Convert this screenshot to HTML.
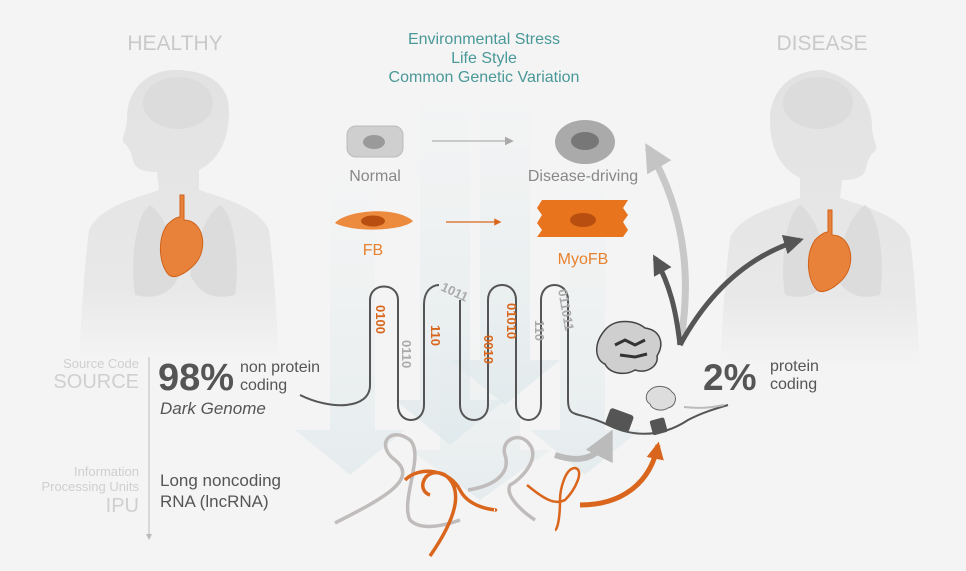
<!DOCTYPE html>
<html><head><style>
html,body{margin:0;padding:0;background:#f4f4f4;}
svg{display:block;font-family:"Liberation Sans",sans-serif;}
</style></head><body>
<svg width="966" height="571" viewBox="0 0 966 571">
<defs>
<linearGradient id="fade" x1="0" y1="0" x2="0" y2="1"><stop offset="0" stop-color="#e2e2e2"/><stop offset="0.75" stop-color="#e8e8e8"/><stop offset="1" stop-color="#f4f4f4"/></linearGradient>
<linearGradient id="teal" x1="0" y1="0" x2="0" y2="1"><stop offset="0" stop-color="#e4ecee" stop-opacity="0.1"/><stop offset="1" stop-color="#d6e4e8" stop-opacity="0.8"/></linearGradient>
<marker id="ag" viewBox="0 0 10 10" refX="8" refY="5" markerWidth="6" markerHeight="6" orient="auto"><path d="M0,0L10,5L0,10z" fill="#aaa"/></marker>
<marker id="ao" viewBox="0 0 10 10" refX="8" refY="5" markerWidth="6" markerHeight="6" orient="auto"><path d="M0,0L10,5L0,10z" fill="#d9661c"/></marker>
<marker id="ad" viewBox="0 0 10 10" refX="8" refY="5" markerWidth="4" markerHeight="4" orient="auto"><path d="M0,0L10,5L0,10z" fill="#555"/></marker>
<marker id="al" viewBox="0 0 10 10" refX="8" refY="5" markerWidth="4" markerHeight="4" orient="auto"><path d="M0,0L10,5L0,10z" fill="#c4c4c4"/></marker>
<marker id="aor" viewBox="0 0 10 10" refX="8" refY="5" markerWidth="3.5" markerHeight="3.5" orient="auto"><path d="M0,0L10,5L0,10z" fill="#d9661c"/></marker>
<marker id="av" viewBox="0 0 10 10" refX="8" refY="5" markerWidth="5" markerHeight="5" orient="auto"><path d="M0,0L10,5L0,10z" fill="#bbb"/></marker>
</defs>

<g fill="url(#fade)">
<path d="M175,70c-30,0-48,22-48,48c0,14 -8,22-2,26c4,3 6,8 8,16c2,10 12,12 24,12l2,18c-30,10-60,18-70,40c-5,40-8,90-10,130h200c-2-40-5-90-10-130c-10-22-40-30-70-40l0-20c20-10 30-30 30-60c0-25-20-40-54-40z"/>
<path d="M822,70c-32,0-52,22-52,50c0,28 10,48 30,58l0,20c-30,10-60,18-70,40c-5,40-8,90-10,130h200c-2-40-5-90-10-130c-10-22-40-30-70-40l2-18c12,0 22-2 24-12c2-8 4-13 8-16c6-4-2-12-2-26c0-26-18-48-50-56z"/>
</g>
<g fill="#dcdcdc">
<ellipse cx="178" cy="103" rx="35" ry="26"/>
<ellipse cx="818" cy="103" rx="35" ry="26"/>
<path d="M150,205c-15,10-20,60-15,90c20,5 35,0 45-20c-5-30-15-60-30-70z"/>
<path d="M220,205c15,10 20,60 15,90c-20,5-35,0-45-20c5-30 15-60 30-70z"/>
<path d="M800,205c-15,10-20,60-15,90c20,5 35,0 45-20c-5-30-15-60-30-70z"/>
<path d="M865,205c15,10 20,60 15,90c-20,5-35,0-45-20c5-30 15-60 30-70z"/>
</g>
<g fill="#e8823a" stroke="#d0621a" stroke-width="1">
<path d="M180,195l4,0l0,25c20,0 25,30 10,45c-10,10-20,14-25,10c-10-10-12-35-2-50c5-5 10-8 13-8z"/>
<path d="M828,210l4,0l0,25c20,0 25,30 10,45c-10,10-20,14-25,10c-10-10-12-35-2-50c5-5 10-8 13-8z"/>
</g>

<!-- teal background arrows -->
<g fill="url(#teal)">
<path d="M330,180h45v250h30l-55,45l-55-45h35z" opacity="0.6"/>
<path d="M420,100h50v300h35l-55,45l-55-45h25z" opacity="0.7"/>
<path d="M480,100h50v260h30l-55,45l-55-45h30z" opacity="0.7"/>
<path d="M560,180h45v250h35l-55,45l-55-45h30z" opacity="0.6"/>
<path d="M440,330h80v120h30l-70,50l-70-50h30z" opacity="0.6"/>
</g>

<text x="175" y="50" font-size="21" fill="#c9c9c9" text-anchor="middle">HEALTHY</text>
<text x="822" y="50" font-size="21" fill="#c9c9c9" text-anchor="middle">DISEASE</text>
<g font-size="16" fill="#4a9898" text-anchor="middle">
<text x="484" y="44">Environmental Stress</text>
<text x="484" y="63">Life Style</text>
<text x="484" y="82">Common Genetic Variation</text>
</g>

<rect x="347" y="126" width="56" height="31" rx="9" fill="#cfcfcf" stroke="#bbb"/>
<ellipse cx="374" cy="142" rx="11" ry="7" fill="#9a9a9a"/>
<text x="375" y="181" font-size="16" fill="#888" text-anchor="middle">Normal</text>
<line x1="432" y1="141" x2="512" y2="141" stroke="#bbb" stroke-width="1.5" marker-end="url(#ag)"/>
<ellipse cx="585" cy="142" rx="30" ry="22" fill="#aaa"/>
<ellipse cx="585" cy="141" rx="14" ry="9" fill="#777"/>
<text x="583" y="181" font-size="16" fill="#888" text-anchor="middle">Disease-driving</text>
<path d="M335,223c10-12 60-18 78-2c-10,10-60,12-78,2z" fill="#ec8a3e"/>
<ellipse cx="373" cy="221" rx="12" ry="5.5" fill="#b84e10"/>
<text x="373" y="255" font-size="16" fill="#e8822e" text-anchor="middle">FB</text>
<line x1="446" y1="222" x2="500" y2="222" stroke="#d9661c" stroke-width="1.2" marker-end="url(#ao)"/>
<path d="M537,200h91l-5,8l5,7l-5,7l5,8l-5,7h-86l5-7l-5-7l5-8l-5-7l5-8z" fill="#e8741e"/>
<ellipse cx="583" cy="220" rx="13" ry="7" fill="#b84e10"/>
<text x="583" y="264" font-size="16" fill="#e8822e" text-anchor="middle">MyoFB</text>

<path d="M680,345C690,290 690,220 648,148" stroke="#c8c8c8" stroke-width="7" fill="none" marker-end="url(#al)"/>
<path d="M680,345C676,310 670,285 655,258" stroke="#555" stroke-width="5" fill="none" marker-end="url(#ad)"/>
<path d="M680,345C710,290 750,255 800,240" stroke="#555" stroke-width="5" fill="none" marker-end="url(#ad)"/>

<path d="M300,395C330,410 370,410 370,385V300c0-18 28-18 28,0v105c0,20 26,20 26,0V305c0-18 12-20 15-20M460,300v105c0,20 28,20 28,0V300c0-20 28-20 28,0v105c0,20 25,20 25,0V300c0-20 27-20 27,0v100c0,20 10,10 40,25c20,10 50,15 80,-5c15,-8 30,-12 40,-15" stroke="#555" stroke-width="2" fill="none"/>
<path d="M724,405c-10,2-20,4-40,2" stroke="#bbb" stroke-width="2" fill="none"/>
<rect x="607" y="411" width="25" height="18" rx="3" fill="#555" transform="rotate(20 619 420)"/>
<rect x="651" y="419" width="15" height="15" rx="2" fill="#555" transform="rotate(-15 658 426)"/>
<g font-size="13" font-weight="bold">
<text transform="translate(376,305) rotate(90)" fill="#d9661c">0100</text>
<text transform="translate(402,340) rotate(90)" fill="#aaa">0110</text>
<text transform="translate(431,325) rotate(90)" fill="#d9661c">110</text>
<text transform="translate(440,290) rotate(25)" fill="#aaa">1011</text>
<text transform="translate(484,335) rotate(90)" fill="#d9661c">0010</text>
<text transform="translate(507,303) rotate(90)" fill="#d9661c">01010</text>
<text transform="translate(535,320) rotate(90)" fill="#aaa">110</text>
<text transform="translate(558,290) rotate(80)" fill="#aaa">011011</text>
</g>
<path d="M605,330c10-12 30-10 40,-2c15,2 20,15 12,28c2,10-10,18-22,14c-10,6-25,4-30,-6c-10-4-12-20 0-34z" fill="#cfcfcf" stroke="#444" stroke-width="1.5"/>
<path d="M650,390c6-6 18-4 22,2c6,4 4,14-4,16c-6,4-16,2-18-4c-5-3-5-10 0-14z" fill="#ddd" stroke="#666"/>
<path d="M615,345l10,-5l10,5l10,-5M620,355l15,2l12,-3" stroke="#333" stroke-width="3" fill="none"/>

<g fill="none" stroke-width="3.5">
<path d="M335,523C380,500 420,480 395,460C375,445 390,425 410,440C425,455 400,500 410,520C420,530 440,527 460,520" stroke="#c0bcbc"/>
<path d="M405,480C420,465 450,470 460,490C470,510 500,510 495,510M430,556C455,520 465,490 445,475C425,465 415,490 430,495" stroke="#d9661c"/>
<path d="M468,490C500,485 510,470 505,455C500,440 520,430 530,445C540,460 520,480 510,485C505,495 520,510 535,520" stroke="#c0bcbc"/>
<path d="M527,485C545,500 555,505 565,500C575,490 585,470 575,468C565,468 560,490 560,500C560,520 557,530 555,530" stroke="#d9661c" stroke-width="2.5"/>
</g>
<path d="M555,455c30,10 45,0 55,-20" stroke="#bbb" stroke-width="6" fill="none" marker-end="url(#av)"/>
<path d="M580,505c40,0 70,-20 78,-60" stroke="#d9661c" stroke-width="5" fill="none" marker-end="url(#aor)"/>

<g fill="#cfcfcf" text-anchor="end">
<text x="139" y="368" font-size="13">Source Code</text>
<text x="139" y="388" font-size="20">SOURCE</text>
<text x="139" y="476" font-size="13">Information</text>
<text x="139" y="491" font-size="13">Processing Units</text>
<text x="139" y="512" font-size="20">IPU</text>
</g>
<line x1="149" y1="357" x2="149" y2="538" stroke="#bbb" stroke-width="1"/>
<path d="M146,534l3,6l3,-6z" fill="#bbb"/>
<text x="158" y="390" font-size="38" font-weight="bold" fill="#555">98%</text>
<text x="240" y="372" font-size="16" fill="#555">non protein</text>
<text x="240" y="390" font-size="16" fill="#555">coding</text>
<text x="160" y="414" font-size="17" font-style="italic" fill="#555">Dark Genome</text>
<text x="160" y="486" font-size="17" fill="#555">Long noncoding</text>
<text x="160" y="507" font-size="17" fill="#555">RNA (lncRNA)</text>
<text x="703" y="390" font-size="37" font-weight="bold" fill="#555">2%</text>
<text x="770" y="371" font-size="16" fill="#555">protein</text>
<text x="770" y="389" font-size="16" fill="#555">coding</text>
</svg>
</body></html>
